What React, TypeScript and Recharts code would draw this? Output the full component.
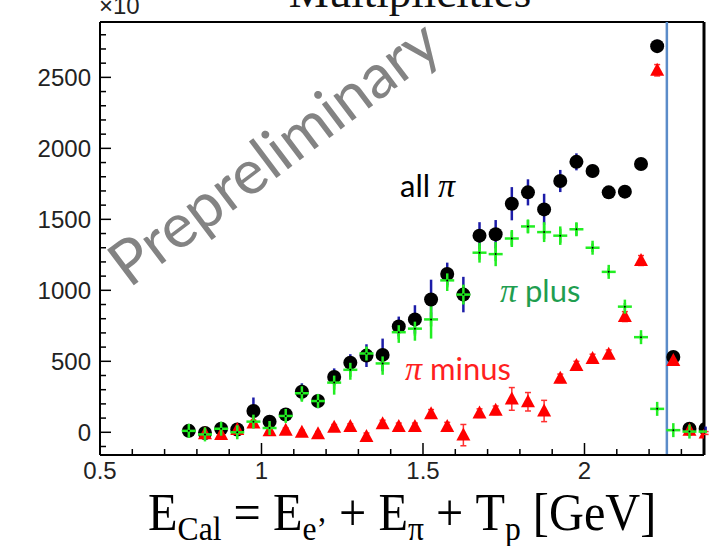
import React from 'react';
import { ComposedChart, Scatter, XAxis, YAxis, ErrorBar, ReferenceLine } from 'recharts';

// ---- data ----
const binCenters = [0.775, 0.825, 0.875, 0.925, 0.975, 1.025, 1.075, 1.125, 1.175, 1.225, 1.275, 1.325, 1.375, 1.425, 1.475, 1.525, 1.575, 1.625, 1.675, 1.725, 1.775, 1.825, 1.875, 1.925, 1.975, 2.025, 2.075, 2.125, 2.175, 2.225, 2.275, 2.325, 2.375];

const allPi = [10, -5, 25, 20, 150, 75, 125, 285, 220, 390, 490, 540, 545, 745, 795, 935, 1115, 970, 1385, 1395, 1610, 1690, 1570, 1770, 1905, 1840, 1690, 1695, 1890, 2720, 530, 25, 25];
const allPiErr = [20, 20, 20, 25, 95, 40, 45, 60, 50, 60, 60, 80, 115, 70, 100, 140, 80, 125, 95, 100, 117, 92, 110, 78, 60, 45, 40, 40, 40, 45, 30, 15, 15];

const piPlus = [10, -15, 25, 0, 75, 30, 115, 275, 220, 350, 440, 555, 485, 705, 730, 795, 1070, 970, 1265, 1255, 1365, 1450, 1410, 1385, 1430, 1300, 1130, 885, 670, 165, 15, 5, 5];
const piPlusErr = [15, 15, 15, 15, 30, 20, 30, 60, 50, 85, 70, 45, 80, 75, 85, 135, 75, 70, 70, 85, 60, 45, 70, 65, 45, 30, 25, 25, 20, 15, 10, 10, 10];

const piMinus: (number | null)[] = [null, -10, -15, 20, 65, 10, 15, 0, -10, 35, 40, -30, 60, 40, 40, 130, 40, -20, 135, 155, 235, 215, 150, 380, 470, 520, 550, 815, 1210, 2550, 505, 15, -5];
const piMinusErr = [0, 15, 15, 15, 20, 15, 15, 15, 15, 20, 20, 25, 25, 25, 25, 30, 30, 75, 30, 30, 80, 65, 75, 30, 30, 30, 30, 35, 35, 40, 25, 10, 10];

const cutLine = 2.255;
const xDomain = [0.5, 2.37];
const yDomain = [-160, 2890];

const xTicks = [0.5, 0.6, 0.7, 0.8, 0.9, 1.0, 1.1, 1.2, 1.3, 1.4, 1.5, 1.6, 1.7, 1.8, 1.9, 2.0, 2.1, 2.2, 2.3];
const xMajor = [0.5, 1.0, 1.5, 2.0];
const xMajorLabels = ['0.5', '1', '1.5', '2'];

const yTicks = [-100, 0, 100, 200, 300, 400, 500, 600, 700, 800, 900, 1000, 1100, 1200, 1300, 1400, 1500, 1600, 1700, 1800, 1900, 2000, 2100, 2200, 2300, 2400, 2500, 2600, 2700, 2800];
const yMajor = [0, 500, 1000, 1500, 2000, 2500];
const yMajorLabels = ['0', '500', '1000', '1500', '2000', '2500'];

const mk = (ys: (number | null)[], errs: number[]) =>
  binCenters
    .map((x, i) => ({ x, y: ys[i], err: errs[i] }))
    .filter((d) => d.y !== null && d.y !== undefined);

const allData = mk(allPi, allPiErr);
const plusData = mk(piPlus, piPlusErr);
const minusData = mk(piMinus, piMinusErr);

const TICK_FONT = '"Liberation Sans", Arial, sans-serif';
const NOTE_FONT = 'Lato, "Open Sans", sans-serif';
const SERIF = '"Liberation Serif", serif';

const XTick = (props: any) => {
  const { x, y, payload } = props;
  const v = payload.value;
  const mi = xMajor.findIndex((m) => Math.abs(m - v) < 1e-6);
  const len = mi >= 0 ? 12 : 6;
  return (
    <g>
      <line x1={x} x2={x} y1={y} y2={y - len} stroke="#000" strokeWidth={1.5} />
      {mi >= 0 && (
        <text x={x} y={y + 24} textAnchor="middle" fontFamily={TICK_FONT} fontSize={24} fill="#222">
          {xMajorLabels[mi]}
        </text>
      )}
    </g>
  );
};

const YTick = (props: any) => {
  const { x, y, payload } = props;
  const v = payload.value;
  const mi = yMajor.findIndex((m) => Math.abs(m - v) < 1e-6);
  const len = mi >= 0 ? 11 : 6;
  return (
    <g>
      <line x1={x} x2={x + len} y1={y} y2={y} stroke="#000" strokeWidth={1.5} />
      {mi >= 0 && (
        <text x={x - 9} y={y + 8.5} textAnchor="end" fontFamily={TICK_FONT} fontSize={24} fill="#222">
          {yMajorLabels[mi]}
        </text>
      )}
    </g>
  );
};

const CircleShape = (p: any) =>
  p.cx == null ? null : <circle cx={p.cx} cy={p.cy} r={7} fill="#000" />;

const TriShape = (p: any) =>
  p.cx == null ? null : (
    <polygon
      points={`${p.cx},${p.cy - 7.5} ${p.cx - 7},${p.cy + 5.5} ${p.cx + 7},${p.cy + 5.5}`}
      fill="#ff0000"
    />
  );

const PlusShape = (p: any) =>
  p.cx == null ? null : (
    <g>
      <line x1={p.cx - 7} x2={p.cx + 7} y1={p.cy} y2={p.cy} stroke="#22ee22" strokeWidth={2.5} />
      <line x1={p.cx} x2={p.cx} y1={p.cy - 7} y2={p.cy + 7} stroke="#22ee22" strokeWidth={2.5} />
      <circle cx={p.cx} cy={p.cy} r={1} fill="#000" />
    </g>
  );

export default function App() {
  return (
    <div style={{ position: 'absolute', left: 0, top: 0, width: 720, height: 546, background: '#fff' }}>
      <svg
        width={720}
        height={546}
        style={{ position: 'absolute', left: 0, top: 0, pointerEvents: 'none' }}
      >
        <text
          transform="translate(287,170) rotate(-37)"
          textAnchor="middle"
          fontFamily={NOTE_FONT}
          fontSize={62}
          fill="#838383"
        >
          Prepreliminary
        </text>
      </svg>
      <div style={{ position: 'absolute', left: 0, top: 0 }}>
        <ComposedChart
          width={720}
          height={546}
          margin={{ top: 22, right: 16, left: 0, bottom: 41 }}
        >
          <XAxis
            type="number"
            dataKey="x"
            domain={xDomain}
            allowDataOverflow
            ticks={xTicks}
            interval={0}
            tickSize={0}
            tickMargin={0}
            tickLine={false}
            height={50}
            axisLine={{ stroke: '#000', strokeWidth: 2 }}
            tick={<XTick />}
          />
          <YAxis
            type="number"
            dataKey="y"
            domain={yDomain}
            allowDataOverflow
            ticks={yTicks}
            interval={0}
            tickSize={0}
            tickMargin={0}
            tickLine={false}
            width={100}
            axisLine={{ stroke: '#000', strokeWidth: 2 }}
            tick={<YTick />}
          />
          <ReferenceLine y={yDomain[1]} stroke="#000" strokeWidth={2} ifOverflow="visible" />
          <ReferenceLine x={xDomain[1]} stroke="#000" strokeWidth={3} ifOverflow="visible" />
          <Scatter name="all pi" data={allData} shape={<CircleShape />} isAnimationActive={false}>
            <ErrorBar dataKey="err" direction="y" width={0} stroke="#1c1ca8" strokeWidth={2.5} isAnimationActive={false} />
          </Scatter>
          <Scatter name="pi minus" data={minusData} shape={<TriShape />} isAnimationActive={false}>
            <ErrorBar dataKey="err" direction="y" width={3} stroke="#ff3030" strokeWidth={1.5} isAnimationActive={false} />
          </Scatter>
          <Scatter name="pi plus" data={plusData} shape={<PlusShape />} isAnimationActive={false}>
            <ErrorBar dataKey="err" direction="y" width={0} stroke="#22ee22" strokeWidth={2.5} isAnimationActive={false} />
          </Scatter>
          <ReferenceLine x={cutLine} stroke="#5b8cc9" strokeWidth={2.5} ifOverflow="visible" />
        </ComposedChart>
      </div>
      <svg
        width={720}
        height={546}
        style={{ position: 'absolute', left: 0, top: 0, pointerEvents: 'none', whiteSpace: 'pre' }}
      >
        <text x={410} y={7} textAnchor="middle" fontFamily={SERIF} fontSize={45} fill="#111">
          Multiplicities
        </text>
        <text x={99} y={14} fontFamily={TICK_FONT} fontSize={24} fill="#222">×10</text>
        <text x={400} y={197} fontFamily={NOTE_FONT} fontSize={31} fill="#000">
          all <tspan fontFamily={SERIF} fontStyle="italic" fontSize={34}>π</tspan>
        </text>
        <text x={500} y={302} fontFamily={NOTE_FONT} fontSize={31} fill="#1f9e50">
          <tspan fontFamily={SERIF} fontStyle="italic" fontSize={34}>π</tspan> plus
        </text>
        <text x={405} y={380} fontFamily={NOTE_FONT} fontSize={31} fill="#ff1f1f">
          <tspan fontFamily={SERIF} fontStyle="italic" fontSize={34}>π</tspan> minus
        </text>
        <text transform="translate(148,530) scale(0.93,1)" x={0} y={0} fontFamily={SERIF} fontSize={52} fill="#000">
          E<tspan fontSize={34} dy={10}>Cal</tspan>
          <tspan dy={-10}> = E</tspan>
          <tspan fontSize={34} dy={10}>e’</tspan>
          <tspan dy={-10}> + E</tspan>
          <tspan fontSize={34} dy={10}>π</tspan>
          <tspan dy={-10}> + T</tspan>
          <tspan fontSize={34} dy={10}>p</tspan>
          <tspan dy={-10}> [GeV]</tspan>
        </text>
      </svg>
    </div>
  );
}
